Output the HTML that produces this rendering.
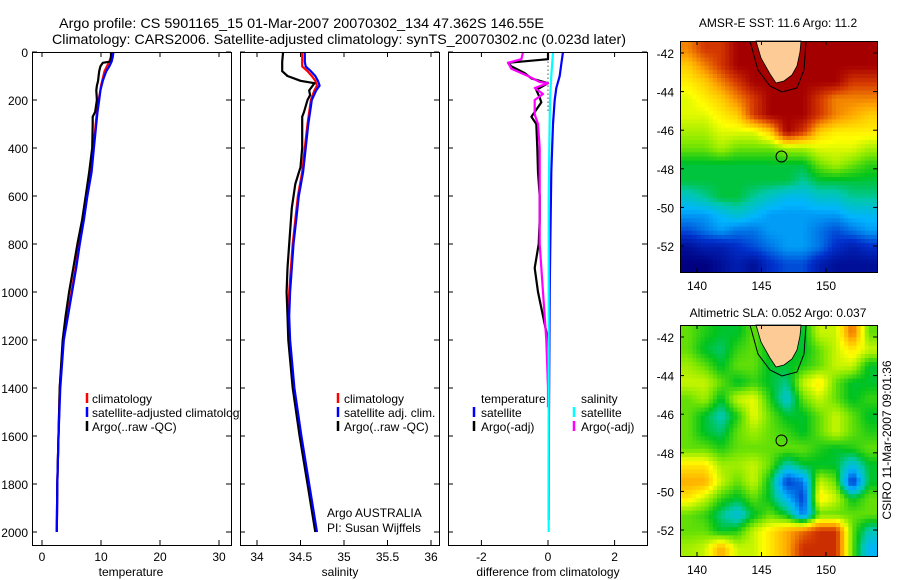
<!DOCTYPE html>
<html><head><meta charset="utf-8"><style>
html,body{margin:0;padding:0;background:#fff;}
svg{display:block;font-family:"Liberation Sans",sans-serif;}
</style></head><body>
<svg id="fig" width="900" height="580" viewBox="0 0 900 580" xmlns="http://www.w3.org/2000/svg">
<text x="59" y="28" font-size="14" textLength="485" lengthAdjust="spacingAndGlyphs">Argo profile: CS 5901165_15 01-Mar-2007 20070302_134 47.362S 146.55E</text>
<text x="52" y="44" font-size="14" textLength="574" lengthAdjust="spacingAndGlyphs">Climatology: CARS2006. Satellite-adjusted climatology: synTS_20070302.nc (0.023d later)</text>
<g id="layer"></g>
</svg>
<script>
// ---------- data ----------
const depthC = [0,20,40,60,80,100,120,140,160,200,250,300,400,500,600,700,800,900,1000,1100,1200,1400,1600,1800,2000];
const tempClim = [11.8,11.7,11.4,11.0,10.6,10.4,10.2,10.0,9.9,9.6,9.3,9.1,8.7,8.3,7.6,7.0,6.3,5.7,5.0,4.3,3.6,3.0,2.8,2.6,2.5];
const tempSat = [12.1,12.0,11.8,11.4,10.9,10.6,10.3,10.1,9.9,9.7,9.4,9.2,8.8,8.4,7.7,7.1,6.4,5.8,5.1,4.4,3.7,3.1,2.8,2.6,2.5];
const depthTA = [0,20,40,45,60,80,100,120,140,160,200,250,270,300,400,500,600,700,800,900,1000,1100,1200,1400,1600,1800,2000];
const tempArgo = [11.7,11.7,11.6,10.3,9.9,9.7,9.6,9.5,9.3,9.2,9.3,9.0,8.6,8.6,8.5,8.0,7.4,6.8,6.0,5.3,4.6,4.0,3.5,3.0,2.8,2.6,2.5];
const salClim = [34.52,34.52,34.52,34.52,34.58,34.63,34.67,34.69,34.66,34.62,34.60,34.58,34.55,34.52,34.47,34.44,34.41,34.39,34.37,34.36,34.37,34.42,34.50,34.59,34.68];
const salSat = [34.55,34.55,34.55,34.56,34.62,34.67,34.70,34.72,34.68,34.63,34.61,34.59,34.56,34.53,34.48,34.45,34.42,34.40,34.38,34.37,34.38,34.43,34.51,34.60,34.69];
const depthSA = [0,40,80,100,120,130,140,160,180,200,250,270,300,400,480,550,650,800,900,1000,1100,1200,1400,1600,1800,2000];
const salArgo = [34.30,34.29,34.29,34.35,34.50,34.66,34.64,34.60,34.61,34.58,34.54,34.52,34.52,34.52,34.50,34.44,34.40,34.37,34.35,34.34,34.35,34.36,34.41,34.49,34.58,34.67];
const depthDTS = [0,50,100,150,200,300,500,800,1000,1500,1950];
const diffTempSat = [0.45,0.4,0.35,0.25,0.2,0.15,0.1,0.07,0.05,0.03,0.02];
const depthDSS = [0,100,200,400,600,1000,1500,2000];
const diffSalSat = [0.15,0.1,0.06,0.04,0.02,0.02,0.02,0.02];
const depthDTA = [0,30,45,60,88,110,130,158,190,210,250,270,300,400,500,600,700,800,900,1000,1100,1200,1230];
const diffTempArgo = [0,0,-1.2,-1.1,-0.7,-0.5,0,-0.35,-0.25,-0.2,-0.4,-0.5,-0.35,-0.32,-0.3,-0.25,-0.25,-0.28,-0.4,-0.3,-0.15,0,0];
const depthDSA = [0,30,45,70,100,125,130,150,175,200,260,300,400,600,800,1000,1200,1400,1480];
const diffSalArgo = [-0.75,-0.8,-1.2,-1.1,-0.6,-0.25,0,-0.4,-0.15,-0.4,-0.4,-0.3,-0.25,-0.25,-0.25,-0.15,-0.05,0,0];
const depthTicks = [0,200,400,600,800,1000,1200,1400,1600,1800,2000];
const tempTicks = [0,10,20,30];
const salTicks = [34,34.5,35,35.5,36];
const salTickLabels = ["34","34.5","35","35.5","36"];
const diffTicks = [-2,0,2];
const latTicks = [-42,-44,-46,-48,-50,-52];
const lonTicks = [140,145,150];
const sstGrid = [
[15,16,16,17,17,17,17,17,17,17,17,17],
[14,15,16,17,17,17,17,17,17,17,17,17],
[13.5,14,15,16,17,17,17,17,17,17,16,16],
[13,13.5,14,15,16,17,17,17,16,15,15,15],
[13,13,13.5,14,16,17,17,17,16,15,14.5,14],
[12.5,12.5,13,13,13,14,17,16,14,13.5,13.5,13.5],
[12,12,12.5,12,12,12,12.5,12.5,13,13,13,12.5],
[11,11,11,11,11,11,11,11,12,12.5,12,11.5],
[11,11,11,11,11,11,11,10.5,11,11,11,11],
[10,10.5,11,11,10.5,10,9.5,9.5,10,10,10.5,10.5],
[9,9,9.5,10,9.5,9,9,9,9,9,9.5,9.5],
[8,8.5,9,8.5,8.5,9,9,9,8.5,8,8.5,9],
[6.5,7,7,7.5,8,8.5,9,9,8.5,7.5,7,7.5],
[6,6,6.5,7,6.5,7.5,8,8,7,6.5,6.5,6.5]];
const slaGrid = [
[0.05,0.02,0,0,0.05,0,0,0,0.1,0.1,0.25,0.05],
[0.05,0,-0.02,0.03,0.05,0,0,0,0.05,0.1,0.15,0.1],
[0.08,0.05,0,0.05,0.05,0,0,0.02,0.05,0.1,0.1,0],
[0.1,0.1,0.05,0,0.03,0,-0.03,0.1,0.15,0.05,0,0],
[0.05,0.08,0,0.1,0.12,0.02,-0.07,0.05,0.1,0.05,0,0.03],
[0.05,0,-0.05,0.02,0.12,0.05,0,0,0.05,0.1,0.05,0],
[0.05,0,-0.02,0.05,0.08,0.05,0.03,0,0.05,0.1,0.05,0.02],
[0.05,0.05,0.02,0.05,0.05,0.05,0.05,0.05,0.02,0,0.02,0.05],
[0.15,0.15,0.08,0.08,0.1,0.05,-0.05,0,0,0,-0.08,0],
[0.2,0.2,0.1,0.05,0.1,0,-0.2,-0.15,0.1,0.05,-0.22,0],
[0.15,0.1,0.03,0,0.05,0,-0.1,-0.2,0.15,0.1,0,0.05],
[0.05,0.03,-0.03,-0.08,0,0.05,0,-0.15,0.05,0.05,0.05,0.05],
[0.05,0.05,0,0.02,0.1,0.15,0.2,0.25,0.3,0.3,0.05,-0.05],
[0.08,0.1,0.2,0.1,0.1,0.15,0.2,0.3,0.3,0.3,0.05,-0.1]];
const argoLon = [146.55];
const argoLat = [-47.362];

// ---------- helpers ----------
const NS = "http://www.w3.org/2000/svg";
const layer = document.getElementById('layer');
function mk(tag, attrs, parent){const e=document.createElementNS(NS,tag);for(const k in attrs)e.setAttribute(k,attrs[k]);(parent||layer).appendChild(e);return e;}
const PT=52, PB=545;
const yDepth = d => 52 + d*0.24;
const xTemp = v => 42 + v*5.9;
const xSal = v => 257 + (v-34)*87;
const xDiff = v => 548 + v*33.3;
function line(xs, ds, xf, color, name){
  const pts = xs.map((v,i)=>xf(v).toFixed(1)+','+yDepth(ds[i]).toFixed(1)).join(' ');
  const p = mk('polyline',{points:pts,fill:'none',stroke:color,'stroke-width':2.2,'stroke-linejoin':'round'});
  
  
}
function txt(x,y,s,size,anchor,name){
  const t=mk('text',{x:x,y:y,'font-size':size,'text-anchor':anchor||'start'});t.textContent=s;
  
  
  return t;
}
function panel(x0,x1,name){
  const r=mk('rect',{x:x0,y:PT,width:x1-x0,height:PB-PT,fill:'#fff',stroke:'none'});
  
  
}
function frame(x0,x1,name){
  const r=mk('rect',{x:x0+0.5,y:PT+0.5,width:x1-x0,height:PB-PT,fill:'none',stroke:'#000','stroke-width':1});
  
  
  depthTicks.forEach(d=>{
    const y=yDepth(d);
    mk('line',{x1:x0,y1:y,x2:x0+5,y2:y,stroke:'#000'});
    mk('line',{x1:x1-5,y1:y,x2:x1,y2:y,stroke:'#000'});
  });
}
function xticks(ticks,labels,xf,x0,x1,name){
  ticks.forEach((v,i)=>{
    const x=xf(v);
    mk('line',{x1:x,y1:PT,x2:x,y2:PT+5,stroke:'#000'});
    mk('line',{x1:x,y1:PB-5,x2:x,y2:PB,stroke:'#000'});
    txt(x,561,labels[i],12,'middle',name+'-tick-label');
  });
}
function legMark(x,y,color,name){
  const m=mk('line',{x1:x,y1:y-10,x2:x,y2:y,stroke:color,'stroke-width':2.5});
  
  
}

// ---------- temperature panel ----------
panel(32,231,'temperature-panel');
xticks(tempTicks,tempTicks.map(String),xTemp,32,231,'temperature-axis');
line(tempClim,depthC,xTemp,'#ff0000','temp-climatology-line');
line(tempArgo,depthTA,xTemp,'#000000','temp-argo-line');
line(tempSat,depthC,xTemp,'#0000ff','temp-satellite-line');
legMark(87,403,'#ff0000','legend-climatology-mark'); txt(92,403,'climatology',12,'start','legend-climatology');
legMark(87,417,'#0000ff','legend-satellite-mark'); txt(92,417,'satellite-adjusted climatology',12,'start','legend-satellite-adjusted');
legMark(87,431,'#000000','legend-argo-mark'); txt(92,431,'Argo(..raw -QC)',12,'start','legend-argo');
depthTicks.forEach(d=>txt(28,yDepth(d)+5,String(d),12,'end','depth-tick-label'));
txt(131,576,'temperature',12,'middle','temperature-axis-title');

// ---------- salinity panel ----------
panel(240,439,'salinity-panel');
xticks(salTicks,salTickLabels,xSal,240,439,'salinity-axis');
line(salClim,depthC,xSal,'#ff0000','sal-climatology-line');
line(salArgo,depthSA,xSal,'#000000','sal-argo-line');
line(salSat,depthC,xSal,'#0000ff','sal-satellite-line');
legMark(338,403,'#ff0000','legend-sal-climatology-mark'); txt(344,403,'climatology',12,'start','legend-sal-climatology');
legMark(338,417,'#0000ff','legend-sal-satellite-mark'); txt(344,417,'satellite adj. clim.',12,'start','legend-sal-satellite');
legMark(338,431,'#000000','legend-sal-argo-mark'); txt(344,431,'Argo(..raw -QC)',12,'start','legend-sal-argo');
txt(327,517,'Argo AUSTRALIA',12,'start','argo-australia-label');
txt(327,532,'PI: Susan Wijffels',12,'start','pi-label');
txt(340,576,'salinity',12,'middle','salinity-axis-title');

// ---------- difference panel ----------
panel(448,647,'difference-panel');
xticks(diffTicks,diffTicks.map(String),xDiff,448,647,'difference-axis');
const dl=mk('line',{x1:xDiff(0),y1:yDepth(40),x2:xDiff(0),y2:yDepth(250),stroke:'#000','stroke-dasharray':'1,3'});


line(diffTempArgo,depthDTA,xDiff,'#000000','diff-temp-argo-line');
line(diffSalArgo,depthDSA,xDiff,'#ff00ff','diff-sal-argo-line');
line(diffTempSat,depthDTS,xDiff,'#0000ff','diff-temp-satellite-line');
line(diffSalSat,depthDSS,xDiff,'#00ffff','diff-sal-satellite-line');
txt(481,403,'temperature',12,'start','legend-diff-temperature-header');
legMark(474,417,'#0000ff','legend-diff-temp-sat-mark'); txt(481,417,'satellite',12,'start','legend-diff-temp-sat');
legMark(474,431,'#000000','legend-diff-temp-argo-mark'); txt(481,431,'Argo(-adj)',12,'start','legend-diff-temp-argo');
txt(581,403,'salinity',12,'start','legend-diff-salinity-header');
legMark(574,417,'#00ffff','legend-diff-sal-sat-mark'); txt(581,417,'satellite',12,'start','legend-diff-sal-sat');
legMark(574,431,'#ff00ff','legend-diff-sal-argo-mark'); txt(581,431,'Argo(-adj)',12,'start','legend-diff-sal-argo');
txt(548,576,'difference from climatology',12,'middle','difference-axis-title');

frame(32,231,'temperature-panel');
frame(240,439,'salinity-panel');
frame(448,647,'difference-panel');

// ---------- maps ----------
const stops=[[0,[0,0,128]],[0.15,[0,50,205]],[0.3,[0,180,255]],[0.4,[0,200,170]],[0.47,[0,195,30]],[0.56,[130,232,0]],[0.66,[255,255,0]],[0.78,[255,165,0]],[0.9,[215,60,0]],[1,[165,0,0]]];
function cmap(t){t=Math.max(0,Math.min(1,t));for(let i=1;i<stops.length;i++){if(t<=stops[i][0]){const a=stops[i-1],b=stops[i];const f=(t-a[0])/(b[0]-a[0]);return 'rgb('+a[1].map((c,k)=>Math.round(c+(b[1][k]-c)*f)).join(',')+')';}}return 'rgb(165,0,0)';}
function sample(grid,fy,fx){
  const nr=grid.length,nc=grid[0].length;
  fy=Math.max(0,Math.min(nr-1,fy));fx=Math.max(0,Math.min(nc-1,fx));
  const i0=Math.floor(fy),j0=Math.floor(fx),i1=Math.min(nr-1,i0+1),j1=Math.min(nc-1,j0+1);
  const a=fy-i0,b=fx-j0;
  return grid[i0][j0]*(1-a)*(1-b)+grid[i0][j1]*(1-a)*b+grid[i1][j0]*a*(1-b)+grid[i1][j1]*a*b;
}
function drawMap(top,grid,vmin,vmax,name){
  const L=680,R=877,B=top+231;
  const lonX=lon=>697+(lon-140)*12.9;
  const latY=lat=>top+12+(-42-lat)*19.3;
  const g=mk('g',{});
  
  
  const nr=grid.length,nc=grid[0].length,S=4;
  const cw=(R-L)/(nc*S),ch=(B-top)/(nr*S);
  for(let i=0;i<nr*S;i++)for(let j=0;j<nc*S;j++){
    const v=sample(grid,(i+0.5)/S-0.5,(j+0.5)/S-0.5);
    const c=mk('rect',{x:(L+j*cw).toFixed(2),y:(top+i*ch).toFixed(2),width:(cw+0.5).toFixed(2),height:(ch+0.5).toFixed(2),fill:cmap((v-vmin)/(vmax-vmin))},g);
    
    
  }
  const o=top-41;
  const c2=mk('path',{d:`M750,${41+o} L758,${70+o} L770,${86+o} L782,${92+o} L797,${88+o} L804,${70+o} L806,${41+o}`,fill:'none',stroke:'#000','stroke-width':1});
  
  
  const land=mk('path',{d:`M756,${41+o} L761,${58+o} L770,${74+o} L776,${83+o} L784,${81+o} L792,${75+o} L797,${66+o} L800,${52+o} L801,${41+o} Z`,fill:'#fccb96',stroke:'#000','stroke-width':0.8});
  
  
  const dot=mk('circle',{cx:lonX(argoLon[0]),cy:latY(argoLat[0]),r:5.5,fill:'none',stroke:'#000','stroke-width':1});
  
  
  const f=mk('rect',{x:L+0.5,y:top+0.5,width:R-L,height:B-top,fill:'none',stroke:'#000'});
  
  
  latTicks.forEach(lat=>{const y=latY(lat);mk('line',{x1:L,y1:y,x2:L+4,y2:y,stroke:'#000'});mk('line',{x1:R-4,y1:y,x2:R,y2:y,stroke:'#000'});txt(674,y+5,String(lat),12,'end',name+'-lat-tick-label');});
  lonTicks.forEach(lon=>{const x=lonX(lon);mk('line',{x1:x,y1:top,x2:x,y2:top+4,stroke:'#000'});mk('line',{x1:x,y1:B-4,x2:x,y2:B,stroke:'#000'});txt(x,B+18,String(lon),12,'middle',name+'-lon-tick-label');});
}
drawMap(41,sstGrid,6,17,'sst-map');
txt(778,27,'AMSR-E SST: 11.6 Argo: 11.2',12,'middle','sst-map-title');
drawMap(325,slaGrid,-0.3,0.35,'sla-map');
txt(778,317,'Altimetric SLA: 0.052 Argo: 0.037',12,'middle','sla-map-title');
const cs=txt(0,0,'CSIRO 11-Mar-2007 09:01:36',12,'middle','timestamp-label');
cs.setAttribute('transform','translate(891,440) rotate(-90)');
</script>
</body></html>
